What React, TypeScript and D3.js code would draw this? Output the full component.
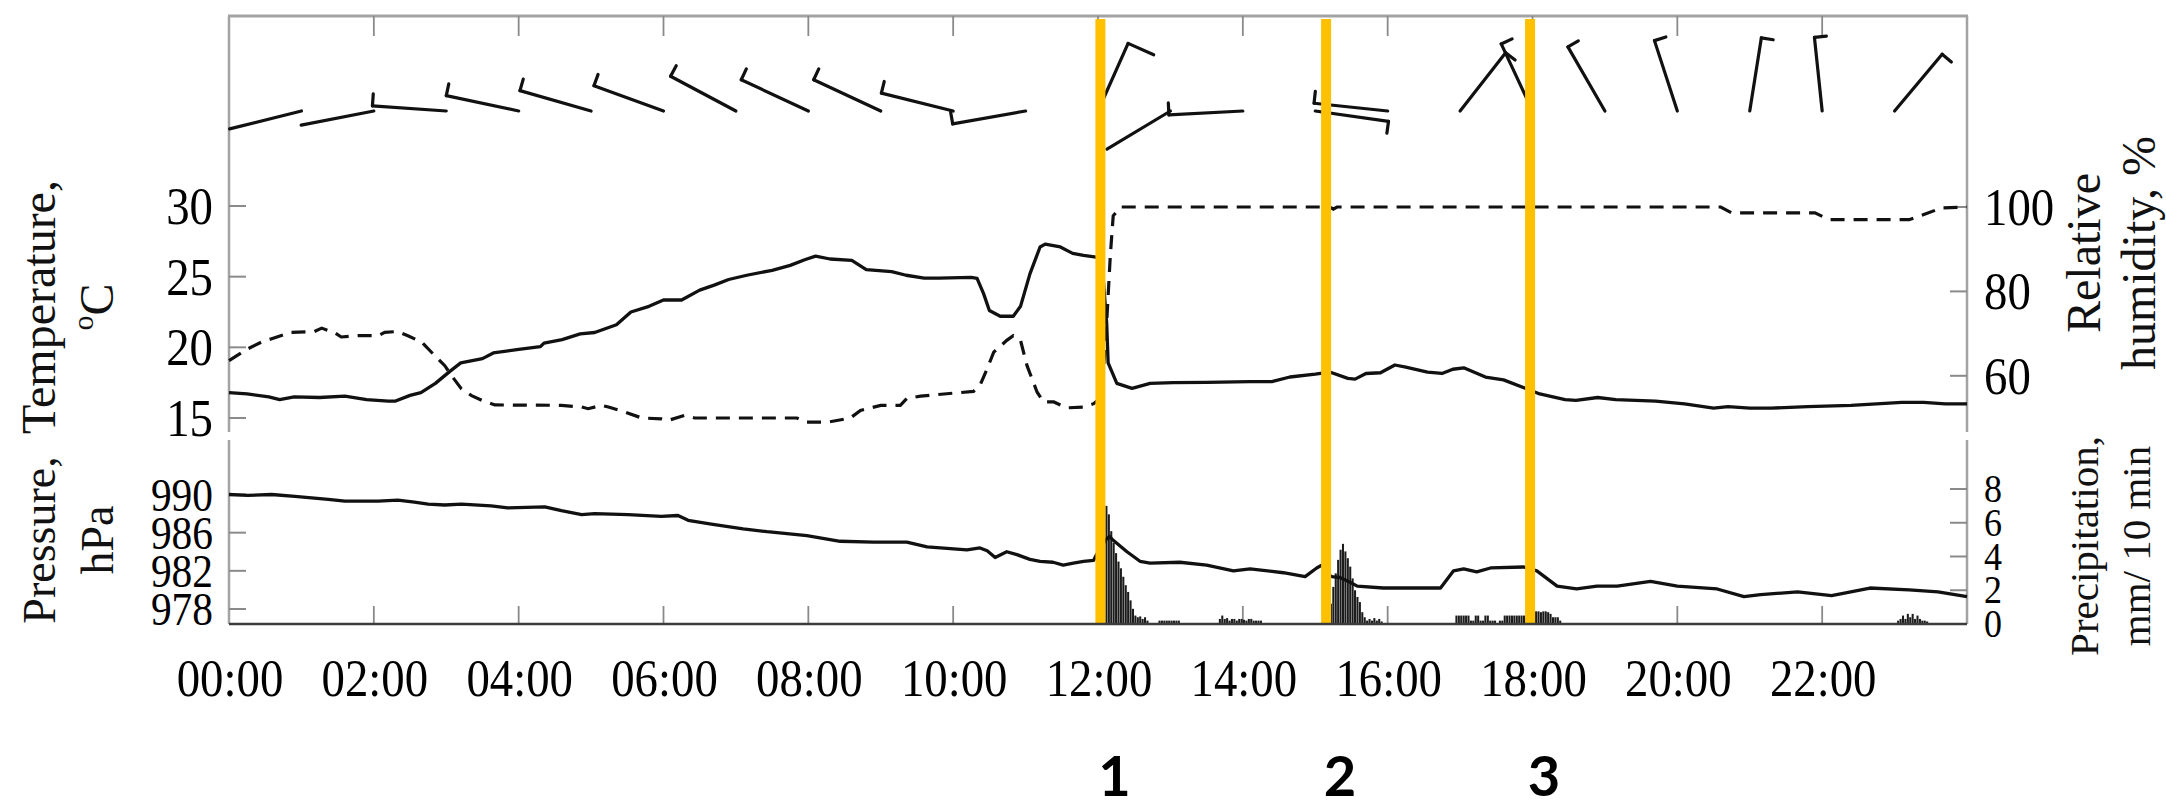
import React from 'react';
import * as d3 from 'd3';

// ---------- DATA ----------
const hourTicks = [0, 2, 4, 6, 8, 10, 12, 14, 16, 18, 20, 22];
const hourLabels = ['00:00', '02:00', '04:00', '06:00', '08:00', '10:00', '12:00', '14:00', '16:00', '18:00', '20:00', '22:00'];
const tempTicks = [15, 20, 25, 30];
const rhTicks = [60, 80, 100];
const presTicks = [978, 982, 986, 990];
const precipTicks = [0, 2, 4, 6, 8];

// [hour, °C]
const temperature: [number, number][] = [
  [0, 16.8], [0.25, 16.7], [0.55, 16.5], [0.7, 16.3], [0.9, 16.5], [1.25, 16.45], [1.6, 16.55], [1.9, 16.3],
  [2.2, 16.2], [2.3, 16.2], [2.5, 16.6], [2.65, 16.8], [2.85, 17.45], [3.05, 18.3], [3.2, 18.9], [3.5, 19.2],
  [3.65, 19.6], [4.0, 19.85], [4.3, 20.05], [4.35, 20.3], [4.6, 20.55], [4.85, 20.95], [5.05, 21.05], [5.35, 21.6],
  [5.55, 22.5], [5.8, 22.9], [6.0, 23.35], [6.25, 23.35], [6.5, 24.05], [6.7, 24.4], [6.9, 24.8], [7.15, 25.1],
  [7.5, 25.45], [7.75, 25.8], [7.95, 26.2], [8.1, 26.45], [8.3, 26.25], [8.6, 26.15], [8.8, 25.5], [9.15, 25.35],
  [9.35, 25.1], [9.6, 24.9], [9.8, 24.9], [10.25, 24.95], [10.33, 24.88], [10.42, 23.8], [10.5, 22.6], [10.65, 22.2],
  [10.83, 22.2], [10.93, 22.9], [11.06, 25.2], [11.2, 27.1], [11.27, 27.3], [11.48, 27.1], [11.65, 26.65], [11.8, 26.5],
  [11.95, 26.4], [12.05, 26.3], [12.12, 21.7], [12.14, 18.9], [12.26, 17.45], [12.47, 17.1], [12.72, 17.45], [13.04, 17.5],
  [13.5, 17.52], [14.1, 17.57], [14.4, 17.57], [14.65, 17.9], [15.0, 18.1], [15.2, 18.25], [15.45, 17.8], [15.55, 17.75],
  [15.7, 18.15], [15.9, 18.2], [16.1, 18.75], [16.25, 18.6], [16.55, 18.25], [16.75, 18.15], [16.9, 18.45], [17.05, 18.55],
  [17.35, 17.9], [17.6, 17.7], [17.9, 17.1], [18.1, 16.7], [18.45, 16.3], [18.6, 16.25], [18.9, 16.45], [19.15, 16.3],
  [19.7, 16.2], [20.1, 16.0], [20.5, 15.7], [20.7, 15.8], [21.0, 15.7], [21.3, 15.7], [21.8, 15.8], [22.4, 15.9],
  [23.1, 16.1], [23.4, 16.1], [23.7, 16.0], [24, 16.0],
];

// [hour, %]
const humidity: [number, number][] = [
  [0, 63.6], [0.26, 66.4], [0.45, 68], [0.59, 68.8], [0.86, 70.3], [1.18, 70.5], [1.28, 71.3], [1.46, 70.2],
  [1.55, 69.2], [1.78, 69.5], [2.06, 69.5], [2.15, 70.3], [2.33, 70.5], [2.47, 69.5], [2.66, 68], [2.84, 64.8],
  [2.98, 62.4], [3.07, 60.1], [3.21, 56.9], [3.35, 55.3], [3.49, 54.2], [3.67, 53.1], [4.59, 53], [4.87, 52.6],
  [4.96, 52.2], [5.14, 53], [5.24, 52.6], [5.47, 51.4], [5.7, 50], [5.97, 49.8], [6.06, 49.4], [6.29, 50.6],
  [6.43, 50], [7.84, 50], [7.98, 49], [8.26, 49], [8.58, 50], [8.72, 51.8], [9.0, 53], [9.27, 53],
  [9.36, 54.6], [9.55, 55.2], [10.28, 56.3], [10.37, 57.7], [10.47, 61.7], [10.56, 65.6], [10.74, 68.4], [10.83, 69.5],
  [10.93, 68.4], [11.02, 62.4], [11.16, 56.1], [11.25, 53.8], [11.39, 53.8], [11.57, 52.4], [11.8, 52.6], [11.94, 53.4],
  [12.05, 55], [12.12, 72.7], [12.17, 88.5], [12.21, 97.9], [12.31, 100], [15.2, 100], [15.25, 99.5], [15.3, 100],
  [20.6, 100], [20.75, 98.6], [21.9, 98.6], [22.1, 97], [23.2, 97], [23.45, 98.5], [23.65, 99.8], [24, 100],
];

// [hour, hPa]
const pressure: [number, number][] = [
  [0, 990], [0.26, 989.9], [0.59, 990], [0.91, 989.8], [1.37, 989.5], [1.6, 989.3], [2.06, 989.3], [2.33, 989.4],
  [2.56, 989.2], [2.75, 989], [2.98, 988.9], [3.21, 989], [3.62, 988.8], [3.85, 988.6], [4.36, 988.7], [4.59, 988.3],
  [4.87, 987.9], [5.05, 988], [5.51, 987.9], [5.97, 987.7], [6.2, 987.8], [6.34, 987.3], [6.66, 986.9], [7.1, 986.4],
  [7.43, 986.1], [7.98, 985.7], [8.44, 985.1], [8.9, 985], [9.36, 985], [9.64, 984.5], [10.19, 984.2], [10.37, 984.4],
  [10.47, 984.1], [10.58, 983.4], [10.74, 984], [10.88, 983.7], [11.06, 983.2], [11.2, 983], [11.38, 982.9], [11.52, 982.6],
  [11.66, 982.8], [11.8, 983], [11.94, 983.1], [11.98, 983.7], [12.1, 985.2], [12.16, 985.6], [12.21, 985.2], [12.4, 984],
  [12.58, 983], [12.72, 982.8], [13.13, 982.9], [13.5, 982.6], [13.87, 982], [14.1, 982.2], [14.56, 981.8], [14.86, 981.4],
  [15.02, 982.3], [15.09, 982.6], [15.16, 981.6], [15.23, 981.4], [15.34, 981.3], [15.48, 980.8], [15.58, 980.4], [15.94, 980.2],
  [16.4, 980.2], [16.73, 980.2], [16.91, 982], [17.05, 982.2], [17.23, 981.9], [17.42, 982.3], [17.88, 982.4], [18.06, 982],
  [18.34, 980.4], [18.61, 980.1], [18.89, 980.4], [19.17, 980.4], [19.63, 980.9], [20.0, 980.4], [20.55, 980.1], [20.92, 979.3],
  [21.15, 979.5], [21.66, 979.8], [22.13, 979.4], [22.66, 980.2], [23.2, 980.0], [23.6, 979.8], [24, 979.3],
];

// [minute of day (start of 2-min bin), mm / 10 min]
const precipitation: [number, number][] = [
  [724, 6.0], [726, 7.0], [728, 6.5], [730, 5.5], [732, 4.8], [734, 4.2], [736, 3.7], [738, 3.3], [740, 2.8],
  [742, 2.3], [744, 1.9], [746, 1.4], [748, 0.9], [750, 0.5], [752, 0.4], [754, 0.45], [756, 0.3], [758, 0.4], [760, 0.2],
  [770, 0.2], [772, 0.2], [774, 0.2], [776, 0.2], [778, 0.2], [780, 0.2], [782, 0.2], [784, 0.2], [786, 0.2],
  [820, 0.3], [822, 0.5], [824, 0.3], [826, 0.35], [828, 0.2], [830, 0.3], [832, 0.3], [834, 0.2], [836, 0.3],
  [838, 0.3], [840, 0.25], [842, 0.2], [844, 0.3], [846, 0.3], [848, 0.2], [850, 0.2], [852, 0.2], [854, 0.2],
  [906, 0.15], [908, 0.15], [910, 0.15], [912, 1.2], [914, 2.2], [916, 3.0], [918, 3.8], [920, 4.4], [922, 4.75],
  [924, 4.3], [926, 3.9], [928, 3.4], [930, 2.7], [932, 2.0], [934, 1.6], [936, 1.3], [938, 0.7], [940, 0.4],
  [942, 0.2], [944, 0.3], [946, 0.2], [948, 0.35], [950, 0.2], [952, 0.3], [954, 0.15],
  [1016, 0.5], [1018, 0.5], [1020, 0.5], [1022, 0.5], [1024, 0.5], [1026, 0.5], [1028, 0.2], [1030, 0.2], [1032, 0.5],
  [1034, 0.5], [1036, 0.2], [1038, 0.2], [1040, 0.5], [1042, 0.5], [1044, 0.2], [1046, 0.2], [1048, 0.2],
  [1052, 0.2], [1054, 0.2], [1056, 0.5], [1058, 0.5], [1060, 0.5], [1062, 0.5], [1064, 0.5], [1066, 0.5], [1068, 0.5],
  [1070, 0.5], [1072, 0.5], [1074, 0.4], [1076, 0.4], [1078, 0.4], [1080, 0.7], [1082, 0.75], [1084, 0.75], [1086, 0.7],
  [1088, 0.75], [1090, 0.75], [1092, 0.7], [1094, 0.6], [1096, 0.4], [1098, 0.4], [1100, 0.4], [1102, 0.2],
  [1382, 0.2], [1384, 0.3], [1386, 0.5], [1388, 0.3], [1390, 0.6], [1392, 0.4], [1394, 0.6], [1396, 0.3],
  [1398, 0.5], [1400, 0.3], [1402, 0.2], [1404, 0.2], [1406, 0.15],
];

// wind barbs: hourly station, direction (deg, clockwise from up), feather (0 none, 0.5 half, 1 full)
const windHours = [1, 2, 3, 4, 5, 6, 7, 8, 9, 10, 11, 12, 13, 14, 15, 16, 17, 18, 19, 20, 21, 22, 23];
const windDirection = [256, 259, 274, 282, 286, 290, 298, 295, 295, 284, 260, 24, 239, 267, 98, 276, 38, 335, 330, 342, 9, 354, 40];
const windFeathers = [0, 0, 0.5, 0.5, 0.5, 0.5, 0.5, 0.5, 0.5, 0.5, 0.5, 1, 0, 0.5, 0.5, 0.5, 0.5, 0.5, 0.5, 0.5, 0.5, 0.5, 0.5];

const eventTimes = ['12:02', '15:09', '17:58'];
const eventLabels = ['1', '2', '3'];

// ---------- LAYOUT ----------
const W = 2166;
const H = 809;
const LEFT = 229;
const RIGHT = 1967;
const TOP = 16;
const BOTTOM = 624;
const GAP_TOP = 432;
const GAP_BOT = 440;
const BARB_Y = 111;
const BARB_LEN = 74;
const SERIF = "'Liberation Serif', 'Times New Roman', serif";
const SQ = 0.9;

const hm = (s: string) => {
  const [a, b] = s.split(':').map(Number);
  return a + b / 60;
};

function Sq({ x, y, anchor, size, children }: { x: number; y: number; anchor: string; size: number; children: React.ReactNode }) {
  return (
    <text
      transform={`translate(${x},${y}) scale(${SQ},1)`}
      textAnchor={anchor as any}
      fontFamily={SERIF}
      fontSize={size}
      fill="#000"
    >
      {children}
    </text>
  );
}

export default function App() {
  const x = d3.scaleLinear().domain([0, 24]).range([LEFT, RIGHT]);
  const yT = d3.scaleLinear().domain([15, 30]).range([418, 206]);
  const yRH = d3.scaleLinear().domain([50, 100]).range([418, 207]);
  const yP = d3.scaleLinear().domain([978, 990]).range([609, 494.5]);
  const yR = d3.scaleLinear().domain([0, 8]).range([BOTTOM, 489]);

  const tLine = d3.line<[number, number]>().x(d => x(d[0])).y(d => yT(d[1]));
  const rhLine = d3.line<[number, number]>().x(d => x(d[0])).y(d => yRH(d[1]));
  const pLine = d3.line<[number, number]>().x(d => x(d[0])).y(d => yP(d[1]));

  const binW = x(2 / 60) - x(0);
  const tickCol = '#8a8a8a';
  const frameCol = '#a3a3a3';

  return (
    <svg width={W} height={H} style={{ position: 'absolute', left: 0, top: 0, background: '#fff' }}>
      <rect x={0} y={0} width={W} height={H} fill="#fff" />

      {/* frame */}
      <line x1={LEFT - 1} x2={RIGHT + 1} y1={TOP} y2={TOP} stroke={frameCol} strokeWidth={3} />
      <line x1={LEFT} x2={LEFT} y1={TOP} y2={GAP_TOP} stroke={frameCol} strokeWidth={2.5} />
      <line x1={LEFT} x2={LEFT} y1={GAP_BOT} y2={BOTTOM} stroke={frameCol} strokeWidth={2.5} />
      <line x1={RIGHT} x2={RIGHT} y1={TOP} y2={GAP_TOP} stroke={frameCol} strokeWidth={2.5} />
      <line x1={RIGHT} x2={RIGHT} y1={GAP_BOT} y2={BOTTOM} stroke={frameCol} strokeWidth={2.5} />

      {/* x ticks top and bottom */}
      {hourTicks.filter(h => h > 0).map(h => (
        <g key={'xt' + h}>
          <line x1={x(h)} x2={x(h)} y1={BOTTOM} y2={BOTTOM - 18} stroke={tickCol} strokeWidth={1.8} />
          <line x1={x(h)} x2={x(h)} y1={TOP} y2={TOP + 20} stroke={tickCol} strokeWidth={1.8} />
        </g>
      ))}

      {/* left ticks */}
      {tempTicks.map(v => (
        <line key={'tt' + v} x1={LEFT} x2={LEFT + 17} y1={yT(v)} y2={yT(v)} stroke={tickCol} strokeWidth={2} />
      ))}
      {presTicks.map(v => (
        <line key={'pt' + v} x1={LEFT} x2={LEFT + 17} y1={yP(v)} y2={yP(v)} stroke={tickCol} strokeWidth={2} />
      ))}
      {/* right ticks */}
      {rhTicks.map(v => (
        <line key={'rt' + v} x1={RIGHT - 17} x2={RIGHT} y1={yRH(v)} y2={yRH(v)} stroke={tickCol} strokeWidth={2} />
      ))}
      {precipTicks.filter(v => v > 0).map(v => (
        <line key={'qt' + v} x1={RIGHT - 17} x2={RIGHT} y1={yR(v)} y2={yR(v)} stroke={tickCol} strokeWidth={2} />
      ))}

      {/* precipitation bars */}
      {precipitation.map(([m, v]) => (
        <rect
          key={'b' + m}
          x={x(m / 60) + 0.15}
          y={yR(v)}
          width={binW - 0.35}
          height={yR(0) - yR(v)}
          fill="#1c1c1c"
        />
      ))}

      {/* series */}
      <path d={tLine(temperature) || ''} fill="none" stroke="#111" strokeWidth={3.3} strokeLinejoin="round" />
      <path d={rhLine(humidity) || ''} fill="none" stroke="#111" strokeWidth={3.2} strokeDasharray="14 9" />
      <path d={pLine(pressure) || ''} fill="none" stroke="#111" strokeWidth={3.3} strokeLinejoin="round" />

      {/* wind barbs */}
      {windHours.map((h, i) => {
        const bx = x(h);
        const by = BARB_Y;
        const th = (windDirection[i] * Math.PI) / 180;
        const dx = Math.sin(th) * BARB_LEN;
        const dy = -Math.cos(th) * BARB_LEN;
        const fx = bx + dx;
        const fy = by + dy;
        const f = windFeathers[i];
        const fl = f >= 1 ? 28 : 12;
        const ux = -dy / BARB_LEN;
        const uy = dx / BARB_LEN;
        return (
          <g key={'w' + h} stroke="#111" strokeWidth={3.2} strokeLinecap="round">
            <line x1={bx} y1={by} x2={fx} y2={fy} />
            {f > 0 && <line x1={fx} y1={fy} x2={fx + ux * fl} y2={fy + uy * fl} />}
          </g>
        );
      })}

      {/* event lines */}
      {eventTimes.map((t, i) => (
        <g key={'ev' + i}>
          <line x1={x(hm(t))} x2={x(hm(t))} y1={TOP + 3} y2={BOTTOM} stroke="#FFC000" strokeWidth={10} />
          <text
            x={x(hm(t)) + 14}
            y={796}
            textAnchor="middle"
            fontFamily="Lato, 'Open Sans', sans-serif"
            fontWeight={700}
            fontSize={56}
            fill="#000"
          >
            {eventLabels[i]}
          </text>
        </g>
      ))}

      {/* bottom axis */}
      <line x1={LEFT} x2={RIGHT} y1={BOTTOM} y2={BOTTOM} stroke="#3c3c3c" strokeWidth={2.5} />

      {/* tick labels */}
      {hourTicks.map((h, i) => (
        <Sq key={'xl' + h} x={x(h) + 1} y={696} anchor="middle" size={52}>{hourLabels[i]}</Sq>
      ))}
      {tempTicks.map(v => (
        <Sq key={'tl' + v} x={213} y={yT(v) + 18} anchor="end" size={52}>{v}</Sq>
      ))}
      {presTicks.map(v => (
        <Sq key={'pl' + v} x={213} y={yP(v) + 16} anchor="end" size={46}>{v}</Sq>
      ))}
      {rhTicks.map(v => (
        <Sq key={'rl' + v} x={1984} y={yRH(v) + 18} anchor="start" size={52}>{v}</Sq>
      ))}
      {precipTicks.map(v => (
        <Sq key={'ql' + v} x={1984} y={yR(v) + 13} anchor="start" size={40}>{v}</Sq>
      ))}

      {/* axis titles */}
      <g fontFamily={SERIF} fill="#111" textAnchor="middle">
        <text fontSize={48} transform="translate(55,307) rotate(-90)">Temperature,</text>
        <text fontSize={48} transform="translate(113,307) rotate(-90)">
          <tspan fontSize={30} dy={-20}>o</tspan>
          <tspan dy={20}>C</tspan>
        </text>
        <text fontSize={46} transform="translate(55,540) rotate(-90)">Pressure,</text>
        <text fontSize={46} transform="translate(113,540) rotate(-90)">hPa</text>
        <text fontSize={48} transform="translate(2100,253) rotate(-90)">Relative</text>
        <text fontSize={48} transform="translate(2155,253) rotate(-90)">humidity, %</text>
        <text fontSize={41} transform="translate(2098,546) rotate(-90)">Precipitation,</text>
        <text fontSize={41} transform="translate(2150,546) rotate(-90)">mm/ 10 min</text>
      </g>
    </svg>
  );
}
